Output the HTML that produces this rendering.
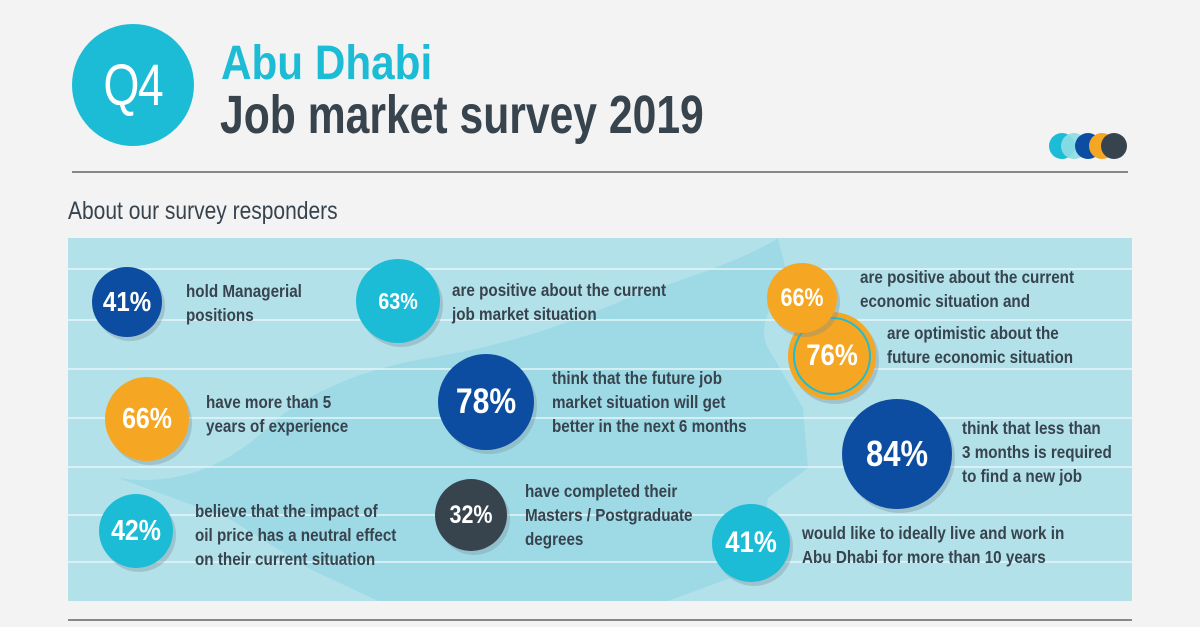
<!DOCTYPE html>
<html><head><meta charset="utf-8"><style>
body{margin:0;width:1200px;height:627px;background:#f3f3f3;position:relative;overflow:hidden;font-family:"Liberation Sans",sans-serif}
.a{position:absolute}
.c{position:absolute;border-radius:50%;color:#fff;font-weight:bold;display:flex;align-items:center;justify-content:center;box-shadow:3px 4px 0 rgba(120,140,150,.35)}
.c span{display:inline-block;transform:scaleX(.86);position:relative}
.t{position:absolute;color:#37434d;font-weight:bold;font-size:17.5px;line-height:24px;transform:scaleX(.87);transform-origin:0 0;white-space:nowrap}
</style></head><body>
<div class="a" style="left:72px;top:24px;width:122px;height:122px;border-radius:50%;background:#1cbcd6;color:#fff;font-size:58px;display:flex;align-items:center;justify-content:center"><span style="display:inline-block;transform:scaleX(.8);letter-spacing:-2px">Q4</span></div>
<div class="a" style="left:221px;top:36px;font-size:48px;font-weight:bold;color:#1cbcd6;transform:scaleX(.88);transform-origin:0 0;white-space:nowrap">Abu Dhabi</div>
<div class="a" style="left:220px;top:84px;font-size:54px;font-weight:bold;color:#37434d;transform:scaleX(.79);transform-origin:0 0;white-space:nowrap">Job market survey 2019</div>
<svg class="a" style="left:1048px;top:132px" width="82" height="28"><circle cx="14" cy="14" r="13" fill="#1cbcd6"/><circle cx="26" cy="14" r="13" fill="#8fdbe6" opacity=".9"/><circle cx="40" cy="14" r="13" fill="#0c4da2"/><circle cx="54" cy="14" r="13" fill="#f5a623"/><circle cx="66" cy="14" r="13" fill="#37434d"/></svg>
<div class="a" style="left:72px;top:171px;width:1056px;height:2px;background:#888"></div>
<div class="a" style="left:68px;top:197px;font-size:25px;color:#37434d;transform:scaleX(.84);transform-origin:0 0;white-space:nowrap">About our survey responders</div>
<svg class="a" style="left:68px;top:238px" width="1064" height="363">
<rect width="1064" height="363" fill="#b3e1ea"/>
<path d="M50,240 C120,250 170,220 210,180 C250,150 300,130 360,120 C420,110 480,95 560,60 C620,40 680,20 710,0 L720,40 C700,70 690,90 700,110 L735,170 L740,230 L700,260 L690,330 L600,363 L310,363 L240,330 L160,280 Z" fill="#8fd5e3" opacity=".6"/>
<g stroke="#e6f6f9" stroke-width="1.5" id="lines"></g>
</svg>
<div class="a" style="left:68px;top:619px;width:1064px;height:2px;background:#888"></div>

<div class="c" style="left:92px;top:267px;width:70px;height:70px;background:#0c4da2;font-size:28px"><span>41%</span></div>
<div class="t" style="left:186px;top:279px">hold Managerial<br>positions</div>
<div class="c" style="left:356px;top:259px;width:84px;height:84px;background:#1cbcd6;font-size:23px"><span>63%</span></div>
<div class="t" style="left:452px;top:278px">are positive about the current<br>job market situation</div>
<div class="c" style="left:788px;top:312px;width:88px;height:88px;background:#f5a623;font-size:30px"><div style="position:absolute;inset:5px;border:2px solid #1cbcd6;border-radius:50%"></div><span>76%</span></div>
<div class="c" style="left:767px;top:263px;width:70px;height:70px;background:#f5a623;font-size:25px"><span>66%</span></div>
<div class="t" style="left:860px;top:265px">are positive about the current<br>economic situation and</div>
<div class="t" style="left:887px;top:321px">are optimistic about the<br>future economic situation</div>
<div class="c" style="left:105px;top:377px;width:84px;height:84px;background:#f5a623;font-size:29px"><span>66%</span></div>
<div class="t" style="left:206px;top:390px">have more than 5<br>years of experience</div>
<div class="c" style="left:438px;top:354px;width:96px;height:96px;background:#0c4da2;font-size:35px"><span>78%</span></div>
<div class="t" style="left:552px;top:366px">think that the future job<br>market situation will get<br>better in the next 6 months</div>
<div class="c" style="left:842px;top:399px;width:110px;height:110px;background:#0c4da2;font-size:36px"><span>84%</span></div>
<div class="t" style="left:962px;top:416px">think that less than<br>3 months is required<br>to find a new job</div>
<div class="c" style="left:99px;top:494px;width:74px;height:74px;background:#1cbcd6;font-size:29px"><span>42%</span></div>
<div class="t" style="left:195px;top:499px">believe that the impact of<br>oil price has a neutral effect<br>on their current situation</div>
<div class="c" style="left:435px;top:479px;width:72px;height:72px;background:#37434d;font-size:25px"><span>32%</span></div>
<div class="t" style="left:525px;top:479px">have completed their<br>Masters / Postgraduate<br>degrees</div>
<div class="c" style="left:712px;top:504px;width:78px;height:78px;background:#1cbcd6;font-size:30px"><span>41%</span></div>
<div class="t" style="left:802px;top:521px">would like to ideally live and work in<br>Abu Dhabi for more than 10 years</div>
<script>
const lineYs=[31,82,131,180,229,277,324];
const g=document.getElementById('lines');
lineYs.forEach(y=>{const l=document.createElementNS('http://www.w3.org/2000/svg','line');


l.setAttribute('x1',0);l.setAttribute('x2',1064);l.setAttribute('y1',y);l.setAttribute('y2',y);g.appendChild(l);});
</script>
</body></html>
